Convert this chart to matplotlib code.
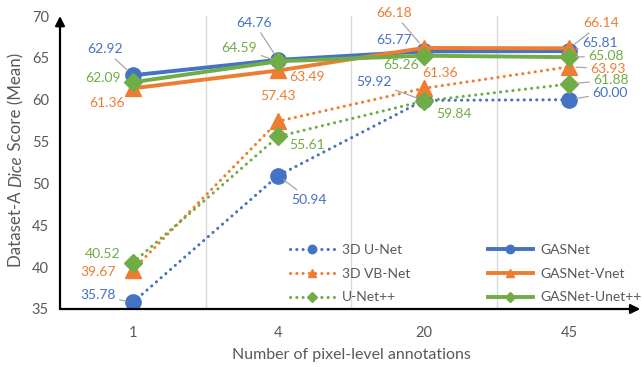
import matplotlib
matplotlib.use("Agg")
import matplotlib.pyplot as plt

plt.rcParams["font.family"] = ["Lato", "DejaVu Sans"]

GREY = "#595959"
BLUE, ORANGE, GREEN = "#4472C4", "#ED7D31", "#70AD47"

x_labels = ["1", "4", "20", "45"]
y_ticks = [35, 40, 45, 50, 55, 60, 65, 70]

unet = [35.78, 50.94, 59.92, 60.00]
vbnet = [39.67, 57.43, 61.36, 63.93]
unetpp = [40.52, 55.61, 59.84, 61.88]
gasnet = [62.92, 64.76, 65.77, 65.81]
gasnet_vnet = [61.36, 63.49, 66.18, 66.14]
gasnet_unetpp = [62.09, 64.59, 65.26, 65.08]

# label offsets in pixels (dx, dy) and whether a leader line is drawn
series = [
    ("3D U-Net", unet, BLUE, "o", ":", 11,
     [(-35, 7, True), (31, -24, True), (-50, 18, True), (41, 7, True)]),
    ("3D VB-Net", vbnet, ORANGE, "^", ":", 11,
     [(-35, -2, False), (0, 25, False), (16, 15, False), (39, -2, True)]),
    ("U-Net++", unetpp, GREEN, "D", ":", 9,
     [(-30, 9, False), (29, -9, False), (30, -13, False), (42, 4, True)]),
    ("GASNet", gasnet, BLUE, "o", "-", 11,
     [(-28, 26, True), (-24, 37, True), (-30, 11, False), (31, 8, True)]),
    ("GASNet-Vnet", gasnet_vnet, ORANGE, "^", "-", 11,
     [(-26, -15, False), (29, -7, False), (-30, 35, True), (32, 25, True)]),
    ("GASNet-Unet++", gasnet_unetpp, GREEN, "D", "-", 9,
     [(-30, 4, False), (-39, 13, True), (-23, -9, False), (37, 1, True)]),
]

fig = plt.figure(figsize=(6.42, 3.67), dpi=100)
ax = fig.add_axes([60 / 642, 58 / 367, 582 / 642, 293 / 367])

xs = list(range(len(x_labels)))
for name, vals, color, marker, ls, ms, labels in series:
    if ls == ":":
        ax.plot(xs, vals, color=color, lw=2.2, linestyle=(0, (0.05, 2.0)),
                dash_capstyle="round", marker=marker, markersize=ms,
                label=name, zorder=3)
    else:
        ax.plot(xs, vals, color=color, lw=2.8, marker=marker, markersize=ms,
                label=name, zorder=4)
    for xi, v, (dx, dy, lead) in zip(xs, vals, labels):
        props = None
        if lead:
            props = dict(arrowstyle="-", color="#a6a6a6", lw=0.9,
                         shrinkA=1, shrinkB=5)
        ax.annotate(f"{v:.2f}", (xi, v), xytext=(dx, dy),
                    textcoords="offset pixels", ha="center", va="center",
                    color=color, fontsize=10, arrowprops=props, zorder=5)

ax.set_xlim(-0.5, 3.5)
ax.set_ylim(35, 70)
ax.set_xticks(xs)
ax.set_xticklabels(x_labels)
ax.set_yticks(y_ticks)
ax.tick_params(length=0, labelsize=10.5, colors=GREY, pad=8)
ax.tick_params(axis="x", pad=12)

for b in [0.5, 1.5, 2.5]:
    ax.axvline(b, color="#d9d9d9", lw=1, zorder=1)

for s in ax.spines.values():
    s.set_visible(False)
ax.annotate("", xy=(0, 1.0), xytext=(0, 0), xycoords="axes fraction",
            arrowprops=dict(arrowstyle="-|>", color="black", lw=1.6,
                            mutation_scale=14, shrinkA=0, shrinkB=0))
ax.annotate("", xy=(0.997, 0), xytext=(0, 0), xycoords="axes fraction",
            arrowprops=dict(arrowstyle="-|>", color="black", lw=1.6,
                            mutation_scale=14, shrinkA=0, shrinkB=0))

ax.set_xlabel("Number of pixel-level annotations", fontsize=11.5, color=GREY,
              labelpad=6)

# y label with italic "Dice", built from pieces
renderer = fig.canvas.get_renderer()
parts = [("Dataset-A ", "normal"), ("Dice", "italic"), (" Score (Mean)", "normal")]
lengths = []
for s, st in parts:
    t = fig.text(0, 0, s, rotation=90, fontsize=12.2, style=st)
    lengths.append(t.get_window_extent(renderer).height)
    t.remove()
y0 = (367 - 160) - sum(lengths) / 2
for (s, st), h in zip(parts, lengths):
    fig.text(16 / 642, y0 / 367, s, rotation=90, fontsize=12.2, style=st,
             color=GREY, ha="center", va="bottom")
    y0 += h

leg = ax.legend(ncol=2, loc="lower left", bbox_to_anchor=(0.385, 0.0),
                frameon=False, fontsize=10, handlelength=3.25,
                labelspacing=0.85, columnspacing=5.6, handletextpad=0.5,
                markerscale=0.55, borderaxespad=0)
for t in leg.get_texts():
    t.set_color(GREY)

fig.savefig("out.png", dpi=100)
